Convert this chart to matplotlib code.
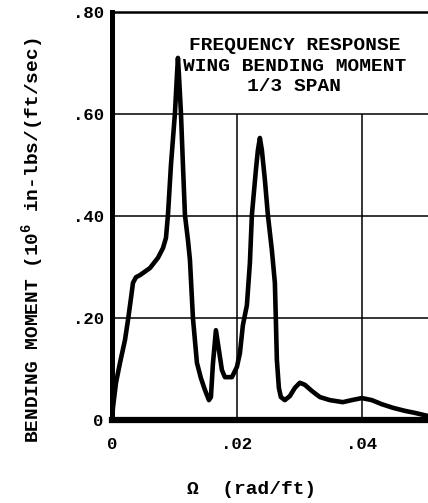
import matplotlib.pyplot as plt

# frequency response, wing bending moment at 1/3 span
omega = [0.0, 0.00016, 0.00064, 0.00128, 0.00208, 0.00256, 0.00304, 0.00336,
         0.00384, 0.00448, 0.00608, 0.00736, 0.00816, 0.00864, 0.00896,
         0.00944, 0.01008, 0.0104, 0.01056, 0.01072, 0.01104, 0.01136,
         0.01168, 0.01216, 0.01248, 0.01296, 0.0136, 0.01424, 0.01488,
         0.01552, 0.01584, 0.01616, 0.01664, 0.01712, 0.0176, 0.01808,
         0.0192, 0.02, 0.02048, 0.02096, 0.0216, 0.02208, 0.0224, 0.02304,
         0.02336, 0.02368, 0.024, 0.02448, 0.02496, 0.0256, 0.02608, 0.02624,
         0.0264, 0.02672, 0.02704, 0.02768, 0.02848, 0.02928, 0.03008,
         0.03088, 0.032, 0.03328, 0.03488, 0.03696, 0.0384, 0.04, 0.0416,
         0.0432, 0.04496, 0.04688, 0.04848, 0.05056]
moment = [0.0, 0.025, 0.073, 0.112, 0.157, 0.196, 0.239, 0.269,
          0.280, 0.284, 0.298, 0.318, 0.337, 0.357, 0.402,
          0.50, 0.602, 0.676, 0.710, 0.676, 0.602, 0.50,
          0.402, 0.353, 0.314, 0.20, 0.112, 0.082, 0.059,
          0.039, 0.045, 0.110, 0.176, 0.137, 0.098, 0.084,
          0.084, 0.104, 0.131, 0.186, 0.225, 0.308, 0.402, 0.490,
          0.529, 0.553, 0.529, 0.471, 0.402, 0.333, 0.269, 0.196,
          0.118, 0.063, 0.045, 0.039, 0.047, 0.063, 0.073,
          0.069, 0.057, 0.045, 0.039, 0.035, 0.039, 0.043, 0.039,
          0.031, 0.024, 0.018, 0.014, 0.008]

y_ticks = [0, 0.2, 0.4, 0.6, 0.8]
y_tick_labels = ["0", ".20", ".40", ".60", ".80"]
x_ticks = [0, 0.02, 0.04]
x_tick_labels = ["0", ".02", ".04"]

mono = "Liberation Mono"
plt.rcParams["mathtext.default"] = "regular"

fig = plt.figure(figsize=(4.28, 5.03), dpi=100)
ax = fig.add_axes([112 / 428, 83 / 503, 1 - 112 / 428, 408 / 503])

# grid: horizontal lines across, vertical lines stop under the caption
for yv in y_ticks[1:4]:
    ax.axhline(yv, color="black", lw=1.1, zorder=1)
for xv in x_ticks[1:]:
    ax.vlines(xv, 0, 0.6, color="black", lw=1.1, zorder=1)

ax.plot(omega, moment, color="black", lw=3.3,
        solid_joinstyle="round", solid_capstyle="round", zorder=3)

ax.set_xlim(0, 0.0506)
ax.set_ylim(0, 0.80)

ax.set_yticks(y_ticks)
ax.set_yticklabels(y_tick_labels)
ax.set_xticks(x_ticks)
ax.set_xticklabels(x_tick_labels)
ax.tick_params(length=0, labelsize=12.5)
ax.tick_params(axis="y", pad=6)
ax.tick_params(axis="x", pad=12)
for lab in ax.get_xticklabels() + ax.get_yticklabels():
    lab.set_family(mono)
    lab.set_fontweight("bold")

ax.spines["right"].set_visible(False)
ax.spines["left"].set_linewidth(3.6)
ax.spines["bottom"].set_linewidth(4.5)
ax.spines["top"].set_linewidth(1.8)

ax.text(0.0292, 0.75,
        "FREQUENCY RESPONSE\nWING BENDING MOMENT\n1/3 SPAN",
        ha="center", va="top", family=mono, fontweight="bold",
        fontsize=14, linespacing=1.25, zorder=4)

fig.text(252 / 428, 1 - 490 / 503, "Ω  (rad/ft)", ha="center", va="center",
         family=mono, fontweight="bold", fontsize=14)
fig.text(33 / 428, 1 - 240 / 503,
         "BENDING MOMENT (10$^6$ in-lbs/(ft/sec)",
         ha="center", va="center", rotation=90,
         family=mono, fontweight="bold", fontsize=14)

fig.savefig("out.png", dpi=100)
